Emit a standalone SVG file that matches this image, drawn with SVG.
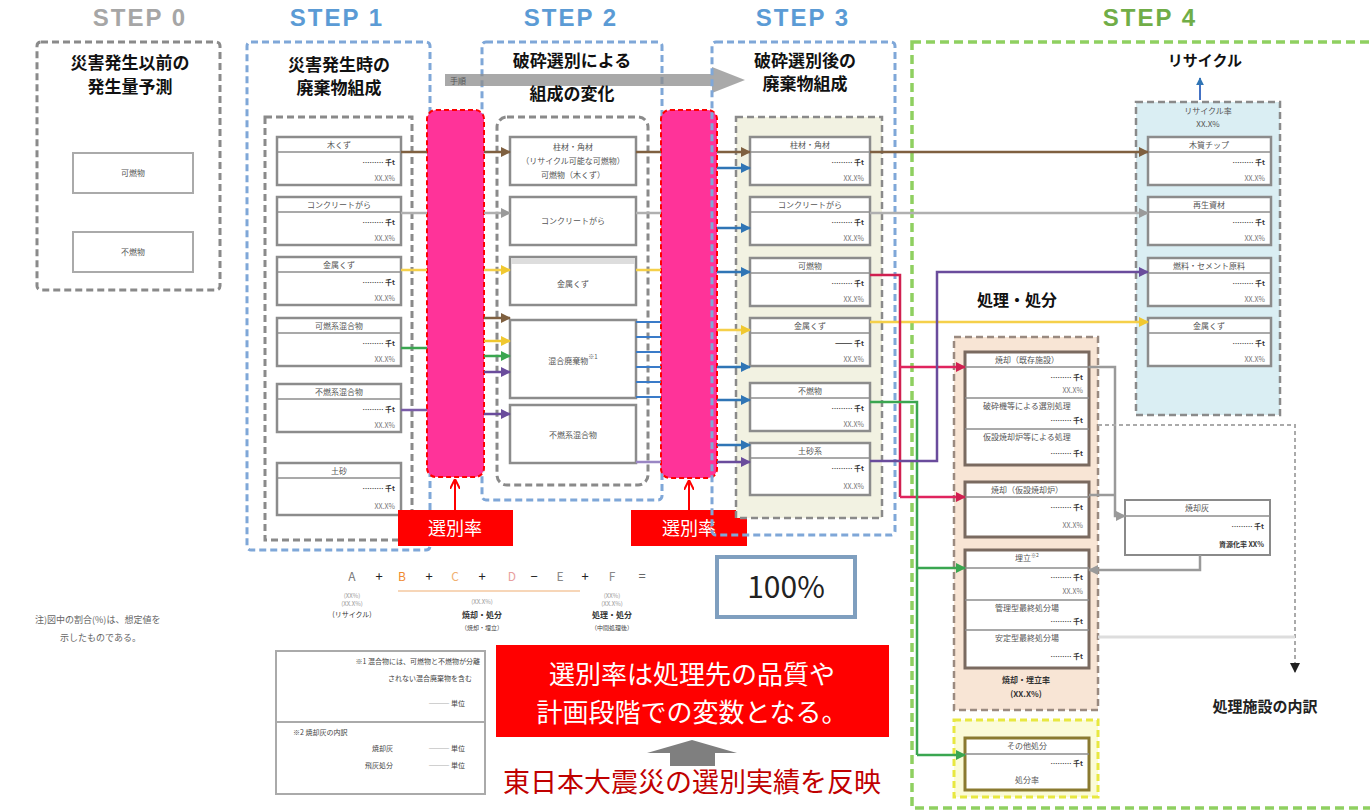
<svg xmlns="http://www.w3.org/2000/svg" width="1370" height="811" viewBox="0 0 1370 811">
<defs>
<style>
text{font-family:"Noto Sans CJK JP","Liberation Sans",sans-serif}
.step{font-family:"Liberation Sans",Arial,sans-serif;font-weight:bold;font-size:24px;letter-spacing:2px;text-anchor:middle}
.ttl{font-size:17px;font-weight:bold;fill:#111;text-anchor:middle}
.it{font-size:8px;fill:#555;text-anchor:middle}
.sm{font-size:7px;fill:#777;text-anchor:end}
.unit{font-size:7px;fill:#333;font-weight:bold;text-anchor:end}
.item{fill:#fff;stroke:#8c8c8c;stroke-width:2.5}
.sep{stroke:#8c8c8c;stroke-width:1.5}
.dg{fill:none;stroke:#8a8a8a;stroke-width:3;stroke-dasharray:7 4}
.db{fill:none;stroke:#7fa7d8;stroke-width:3;stroke-dasharray:7 4}
.c{fill:none;stroke-width:2.5}
.pink{fill:#ff3399;stroke:#ff0000;stroke-width:2;stroke-dasharray:5 3}
</style>
<marker id="aBr" viewBox="0 0 10 10" refX="9" refY="5" markerWidth="4" markerHeight="4" orient="auto"><path d="M0,0L10,5L0,10z" fill="#7f6040"/></marker>
<marker id="aGy" viewBox="0 0 10 10" refX="9" refY="5" markerWidth="4" markerHeight="4" orient="auto"><path d="M0,0L10,5L0,10z" fill="#9a9a9a"/></marker>
<marker id="aYe" viewBox="0 0 10 10" refX="9" refY="5" markerWidth="4" markerHeight="4" orient="auto"><path d="M0,0L10,5L0,10z" fill="#f0c830"/></marker>
<marker id="aGr" viewBox="0 0 10 10" refX="9" refY="5" markerWidth="4" markerHeight="4" orient="auto"><path d="M0,0L10,5L0,10z" fill="#3aa650"/></marker>
<marker id="aPu" viewBox="0 0 10 10" refX="9" refY="5" markerWidth="4" markerHeight="4" orient="auto"><path d="M0,0L10,5L0,10z" fill="#6a4c9c"/></marker>
<marker id="aBl" viewBox="0 0 10 10" refX="9" refY="5" markerWidth="4" markerHeight="4" orient="auto"><path d="M0,0L10,5L0,10z" fill="#2f75b5"/></marker>
<marker id="aRd" viewBox="0 0 10 10" refX="9" refY="5" markerWidth="4" markerHeight="4" orient="auto"><path d="M0,0L10,5L0,10z" fill="#d02050"/></marker>
<marker id="aRed" viewBox="0 0 10 10" refX="9" refY="5" markerWidth="5" markerHeight="5" orient="auto"><path d="M0,0L10,5L0,10" fill="none" stroke="#ff0000" stroke-width="2"/></marker>
<marker id="aBk" viewBox="0 0 10 10" refX="9" refY="5" markerWidth="5" markerHeight="5" orient="auto"><path d="M0,0L10,5L0,10z" fill="#222"/></marker>
</defs>
<rect width="1370" height="811" fill="#fff"/>

<!-- STEP labels -->
<text class="step" x="140" y="26" fill="#a6a6a6">STEP 0</text>
<text class="step" x="337" y="26" fill="#5b9bd5">STEP 1</text>
<text class="step" x="571" y="26" fill="#5b9bd5">STEP 2</text>
<text class="step" x="803" y="26" fill="#5b9bd5">STEP 3</text>
<text class="step" x="1150" y="26" fill="#70ad47">STEP 4</text>

<!-- STEP 0 -->
<g id="step0">
<rect class="dg" x="37" y="42" width="183" height="248" rx="4"/>
<text class="ttl" x="130" y="69">災害発生以前の</text>
<text class="ttl" x="130" y="93">発生量予測</text>
<rect x="73" y="153" width="120" height="40" fill="#fff" stroke="#aaa" stroke-width="2"/>
<text class="it" x="133" y="176" font-size="10">可燃物</text>
<rect x="73" y="232" width="120" height="40" fill="#fff" stroke="#aaa" stroke-width="2"/>
<text class="it" x="133" y="255" font-size="10">不燃物</text>
</g>

<!-- STEP 1 -->
<g id="step1">
<rect class="db" x="247" y="42" width="183" height="508" rx="4"/>
<text class="ttl" x="339" y="71">災害発生時の</text>
<text class="ttl" x="339" y="94">廃棄物組成</text>
<rect class="dg" x="265" y="117" width="147" height="423" stroke-width="2.5"/>
</g>
<g id="s1-1"><rect class="item" x="277" y="137" width="124" height="48"/><line class="sep" x1="277" y1="152" x2="401" y2="152"/><text class="it" x="339" y="148">木くず</text><text class="unit" x="395" y="165">……… 千t</text><text class="sm" x="395" y="181">XX.X%</text></g>
<g id="s1-2"><rect class="item" x="277" y="197" width="124" height="48"/><line class="sep" x1="277" y1="212" x2="401" y2="212"/><text class="it" x="339" y="208">コンクリートがら</text><text class="unit" x="395" y="225">……… 千t</text><text class="sm" x="395" y="241">XX.X%</text></g>
<g id="s1-3"><rect class="item" x="277" y="257" width="124" height="48"/><line class="sep" x1="277" y1="272" x2="401" y2="272"/><text class="it" x="339" y="268">金属くず</text><text class="unit" x="395" y="285">……… 千t</text><text class="sm" x="395" y="301">XX.X%</text></g>
<g id="s1-4"><rect class="item" x="277" y="318" width="124" height="48"/><line class="sep" x1="277" y1="333" x2="401" y2="333"/><text class="it" x="339" y="329">可燃系混合物</text><text class="unit" x="395" y="346">……… 千t</text><text class="sm" x="395" y="362">XX.X%</text></g>
<g id="s1-5"><rect class="item" x="277" y="384" width="124" height="48"/><line class="sep" x1="277" y1="399" x2="401" y2="399"/><text class="it" x="339" y="395">不燃系混合物</text><text class="unit" x="395" y="412">……… 千t</text><text class="sm" x="395" y="428">XX.X%</text></g>
<g id="s1-6"><rect class="item" x="277" y="463" width="124" height="52"/><line class="sep" x1="277" y1="478" x2="401" y2="478"/><text class="it" x="339" y="474">土砂</text><text class="unit" x="395" y="491">……… 千t</text><text class="sm" x="395" y="509">XX.X%</text></g>

<!-- STEP 2 -->
<g id="step2">
<rect class="db" x="482" y="42" width="180" height="458" rx="4"/>
<polygon points="445,74 712,74 712,67 745,80 712,93 712,86 445,86" fill="#8c8c8c" opacity="0.75"/>
<text x="458" y="84" font-size="8" fill="#555" text-anchor="middle">手順</text>
<text class="ttl" x="572" y="67">破砕選別による</text>
<text class="ttl" x="572" y="100">組成の変化</text>
<rect class="dg" x="497" y="117" width="151" height="368" rx="10" stroke-width="2.5"/>
</g>
<g id="s2-1"><rect class="item" x="510" y="137" width="126" height="48"/><text class="it" x="573" y="150">柱材・角材</text><text class="it" x="573" y="164">（リサイクル可能な可燃物）</text><text class="it" x="573" y="178">可燃物（木くず）</text></g>
<g id="s2-2"><rect class="item" x="510" y="197" width="126" height="48"/><text class="it" x="573" y="224">コンクリートがら</text></g>
<g id="s2-3"><rect class="item" x="510" y="257" width="126" height="48"/><rect x="511" y="258" width="124" height="6" fill="#ddd"/><text class="it" x="573" y="287" fill="#333">金属くず</text></g>
<g id="s2-4"><rect class="item" x="510" y="320" width="126" height="78"/><text class="it" x="573" y="364" fill="#333">混合廃棄物<tspan font-size="6" dy="-5">※1</tspan></text></g>
<g id="s2-5"><rect class="item" x="510" y="405" width="126" height="58"/><text class="it" x="573" y="438" fill="#333">不燃系混合物</text></g>

<!-- pink bars -->
<g id="bar1"><rect class="pink" x="427" y="110" width="57" height="367" rx="9"/></g>
<g id="bar2"><rect class="pink" x="661" y="110" width="56" height="368" rx="9"/></g>
<g id="rate1"><rect x="398" y="510" width="115" height="36" fill="#ff0000"/><text x="455" y="535" font-size="18" fill="#fff" text-anchor="middle">選別率</text></g>
<g id="rate2"><rect x="631" y="510" width="116" height="36" fill="#ff0000"/><text x="689" y="535" font-size="18" fill="#fff" text-anchor="middle">選別率</text></g>

<!-- STEP 3 -->
<g id="step3">
<rect class="db" x="712" y="42" width="183" height="493" rx="4"/>
<text class="ttl" x="805" y="67">破砕選別後の</text>
<text class="ttl" x="805" y="90">廃棄物組成</text>
<rect x="736" y="117" width="146" height="401" fill="#f2f2e2" stroke="#8a8a8a" stroke-width="2.5" stroke-dasharray="7 4"/>
</g>
<g id="s3-1"><rect class="item" x="750" y="137" width="120" height="48"/><line class="sep" x1="750" y1="152" x2="870" y2="152"/><text class="it" x="810" y="148">柱材・角材</text><text class="unit" x="864" y="165">……… 千t</text><text class="sm" x="864" y="181">XX.X%</text></g>
<g id="s3-2"><rect class="item" x="750" y="197" width="120" height="48"/><line class="sep" x1="750" y1="212" x2="870" y2="212"/><text class="it" x="810" y="208">コンクリートがら</text><text class="unit" x="864" y="225">……… 千t</text><text class="sm" x="864" y="241">XX.X%</text></g>
<g id="s3-3"><rect class="item" x="750" y="258" width="120" height="48"/><line class="sep" x1="750" y1="273" x2="870" y2="273"/><text class="it" x="810" y="269">可燃物</text><text class="unit" x="864" y="286">……… 千t</text><text class="sm" x="864" y="302">XX.X%</text></g>
<g id="s3-4"><rect class="item" x="750" y="318" width="120" height="48"/><line class="sep" x1="750" y1="333" x2="870" y2="333"/><text class="it" x="810" y="329">金属くず</text><text class="unit" x="864" y="346">——— 千t</text><text class="sm" x="864" y="362">XX.X%</text></g>
<g id="s3-5"><rect class="item" x="750" y="383" width="120" height="48"/><line class="sep" x1="750" y1="398" x2="870" y2="398"/><text class="it" x="810" y="394">不燃物</text><text class="unit" x="864" y="411">……… 千t</text><text class="sm" x="864" y="427">XX.X%</text></g>
<g id="s3-6"><rect class="item" x="750" y="443" width="120" height="52"/><line class="sep" x1="750" y1="458" x2="870" y2="458"/><text class="it" x="810" y="454">土砂系</text><text class="unit" x="864" y="471">……… 千t</text><text class="sm" x="864" y="489">XX.X%</text></g>

<g id="pct100"><rect x="717" y="557" width="138" height="60" fill="#fff" stroke="#7f9fbf" stroke-width="4"/><text x="786" y="598" font-size="30" fill="#222" text-anchor="middle" font-family="Liberation Sans,sans-serif">100%</text></g>

<!-- STEP 4 -->
<g id="step4">
<rect x="912" y="42" width="470" height="766" fill="none" stroke="#8fd060" stroke-width="3.5" stroke-dasharray="9 5"/>
<text x="1205" y="66" font-size="15" font-weight="bold" fill="#111" text-anchor="middle">リサイクル</text>
<text x="1017" y="306" font-size="16" font-weight="bold" fill="#111" text-anchor="middle">処理・処分</text>
<text x="1265" y="712" font-size="15" font-weight="bold" fill="#222" text-anchor="middle">処理施設の内訳</text>
</g>
<g id="recycle">
<line x1="1200" y1="100" x2="1200" y2="78" stroke="#4472c4" stroke-width="2" marker-end="url(#aBl)"/>
<rect x="1136" y="102" width="144" height="313" fill="#daeef3" stroke="#8a8a8a" stroke-width="2.5" stroke-dasharray="7 4"/>
<text class="it" x="1208" y="114" fill="#333" font-size="7">リサイクル率</text>
<text class="it" x="1208" y="127" fill="#333" font-size="7">XX.X%</text>
</g>
<g id="r-1"><rect class="item" x="1148" y="137" width="123" height="48"/><line class="sep" x1="1148" y1="152" x2="1271" y2="152"/><text class="it" x="1209" y="148">木質チップ</text><text class="unit" x="1265" y="165">……… 千t</text><text class="sm" x="1265" y="181">XX.X%</text></g>
<g id="r-2"><rect class="item" x="1148" y="197" width="123" height="48"/><line class="sep" x1="1148" y1="212" x2="1271" y2="212"/><text class="it" x="1209" y="208" fill="#333">再生資材</text><text class="unit" x="1265" y="225">……… 千t</text><text class="sm" x="1265" y="241">XX.X%</text></g>
<g id="r-3"><rect class="item" x="1148" y="258" width="123" height="48"/><line class="sep" x1="1148" y1="273" x2="1271" y2="273"/><text class="it" x="1209" y="269" fill="#333">燃料・セメント原料</text><text class="unit" x="1265" y="286">……… 千t</text><text class="sm" x="1265" y="302">XX.X%</text></g>
<g id="r-4"><rect class="item" x="1148" y="318" width="123" height="48"/><line class="sep" x1="1148" y1="333" x2="1271" y2="333"/><text class="it" x="1209" y="329" fill="#333">金属くず</text><text class="unit" x="1265" y="346">……… 千t</text><text class="sm" x="1265" y="362">XX.X%</text></g>

<g id="process">
<rect x="954" y="337" width="144" height="373" fill="#f8e5d5" stroke="#9a8a80" stroke-width="2.5" stroke-dasharray="7 4"/>
<text x="1026" y="683" font-size="8" font-weight="bold" fill="#333" text-anchor="middle">焼却・埋立率</text>
<text x="1026" y="697" font-size="8" font-weight="bold" fill="#333" text-anchor="middle">(XX.X%)</text>
</g>
<g id="p-A"><rect x="965" y="352" width="124" height="113" fill="#fff" stroke="#7a6a60" stroke-width="3"/>
<text class="it" x="1027" y="363" fill="#333">焼却（既存施設）</text><line class="sep" x1="965" y1="367" x2="1089" y2="367"/><text class="unit" x="1083" y="380">……… 千t</text><text class="sm" x="1083" y="393">XX.X%</text>
<line class="sep" x1="965" y1="398" x2="1089" y2="398"/><text class="it" x="1027" y="409" fill="#333">破砕機等による選別処理</text><text class="unit" x="1083" y="423">……… 千t</text>
<line class="sep" x1="965" y1="429" x2="1089" y2="429"/><text class="it" x="1027" y="440" fill="#333">仮設焼却炉等による処理</text><text class="unit" x="1083" y="456">……… 千t</text></g>
<g id="p-B"><rect x="965" y="482" width="124" height="55" fill="#fff" stroke="#7a6a60" stroke-width="3"/>
<text class="it" x="1027" y="493" fill="#333">焼却（仮設焼却炉）</text><line class="sep" x1="965" y1="497" x2="1089" y2="497"/><text class="unit" x="1083" y="510">……… 千t</text><text class="sm" x="1083" y="528">XX.X%</text></g>
<g id="p-C"><rect x="965" y="550" width="124" height="118" fill="#fff" stroke="#7a6a60" stroke-width="3"/>
<text class="it" x="1027" y="561" fill="#333">埋立<tspan font-size="5" dy="-4">※2</tspan></text><line class="sep" x1="965" y1="568" x2="1089" y2="568"/><text class="unit" x="1083" y="580">……… 千t</text><text class="sm" x="1083" y="594">XX.X%</text>
<line class="sep" x1="965" y1="600" x2="1089" y2="600"/><text class="it" x="1027" y="611" fill="#333">管理型最終処分場</text><text class="unit" x="1083" y="624">……… 千t</text>
<line class="sep" x1="965" y1="630" x2="1089" y2="630"/><text class="it" x="1027" y="641" fill="#333">安定型最終処分場</text><text class="unit" x="1083" y="659">……… 千t</text></g>
<g id="other">
<rect x="954" y="720" width="144" height="77" fill="#fbfbd8" stroke="#e8e840" stroke-width="3" stroke-dasharray="7 4"/>
<rect x="965" y="738" width="124" height="52" fill="#fff" stroke="#8a7a30" stroke-width="3"/>
<text class="it" x="1027" y="749" fill="#333">その他処分</text><line class="sep" x1="965" y1="754" x2="1089" y2="754"/><text class="unit" x="1083" y="766">……… 千t</text><text class="it" x="1027" y="783" fill="#333">処分率</text>
</g>
<g id="ash"><rect x="1125" y="500" width="145" height="55" fill="#fff" stroke="#8a8a8a" stroke-width="2"/>
<text class="it" x="1197" y="511" fill="#333">焼却灰</text><line class="sep" x1="1125" y1="516" x2="1270" y2="516"/><text class="unit" x="1264" y="529">……… 千t</text><text class="unit" x="1264" y="547">資源化率 XX%</text></g>

<!-- connectors -->
<g id="connectors">
<line class="c" stroke="#7f6040" x1="401" y1="152" x2="427" y2="152"/>
<line class="c" stroke="#7f6040" x1="484" y1="152" x2="510" y2="152" marker-end="url(#aBr)"/>
<line class="c" stroke="#7f6040" x1="636" y1="152" x2="661" y2="152"/>
<line class="c" stroke="#7f6040" x1="717" y1="152" x2="750" y2="152" marker-end="url(#aBr)"/>
<line class="c" stroke="#7f6040" x1="870" y1="152" x2="1148" y2="152" marker-end="url(#aBr)"/>
<line class="c" stroke="#b0b0b0" x1="401" y1="213" x2="427" y2="213"/>
<line class="c" stroke="#b0b0b0" x1="484" y1="213" x2="510" y2="213" marker-end="url(#aGy)"/>
<line class="c" stroke="#b0b0b0" x1="636" y1="213" x2="661" y2="213"/>
<line class="c" stroke="#b0b0b0" x1="870" y1="213" x2="1148" y2="213" marker-end="url(#aGy)"/>
<line class="c" stroke="#f5d04a" x1="401" y1="270" x2="427" y2="270"/>
<line class="c" stroke="#f5d04a" x1="484" y1="270" x2="510" y2="270" marker-end="url(#aYe)"/>
<line class="c" stroke="#f5d04a" x1="636" y1="270" x2="661" y2="270"/>
<line class="c" stroke="#f5d04a" x1="717" y1="330" x2="750" y2="330" marker-end="url(#aYe)"/>
<line class="c" stroke="#f5d04a" x1="870" y1="322" x2="1148" y2="322" marker-end="url(#aYe)"/>
<line class="c" stroke="#3aa650" x1="401" y1="348" x2="427" y2="348"/>
<line class="c" stroke="#7a5ca8" x1="401" y1="410" x2="427" y2="410"/>
<line class="c" stroke="#7f6040" x1="484" y1="318" x2="510" y2="318" marker-end="url(#aBr)"/>
<line class="c" stroke="#f0c830" x1="484" y1="341" x2="510" y2="341" marker-end="url(#aYe)"/>
<line class="c" stroke="#3aa650" x1="484" y1="356" x2="510" y2="356" marker-end="url(#aGr)"/>
<line class="c" stroke="#6a4c9c" x1="484" y1="372" x2="510" y2="372" marker-end="url(#aPu)"/>
<line class="c" stroke="#6a4c9c" x1="484" y1="414" x2="510" y2="414" marker-end="url(#aPu)"/>
<g stroke="#3a7bc8" stroke-width="2">
<line x1="636" y1="322" x2="661" y2="322"/><line x1="636" y1="337" x2="661" y2="337"/><line x1="636" y1="352" x2="661" y2="352"/>
<line x1="636" y1="367" x2="661" y2="367"/><line x1="636" y1="382" x2="661" y2="382"/><line x1="636" y1="397" x2="661" y2="397"/>
</g>
<line class="c" stroke="#9a86c4" x1="636" y1="462" x2="661" y2="462"/>
<line class="c" stroke="#2f75b5" x1="717" y1="168" x2="750" y2="168" marker-end="url(#aBl)"/>
<line class="c" stroke="#2f75b5" x1="717" y1="228" x2="750" y2="228" marker-end="url(#aBl)"/>
<line class="c" stroke="#2f75b5" x1="717" y1="272" x2="750" y2="272" marker-end="url(#aBl)"/>
<line class="c" stroke="#2f75b5" x1="717" y1="367" x2="750" y2="367" marker-end="url(#aBl)"/>
<line class="c" stroke="#2f75b5" x1="717" y1="400" x2="750" y2="400" marker-end="url(#aBl)"/>
<line class="c" stroke="#2f75b5" x1="717" y1="445" x2="750" y2="445" marker-end="url(#aBl)"/>
<line class="c" stroke="#6a4c9c" x1="717" y1="462" x2="750" y2="462" marker-end="url(#aPu)"/>
<polyline class="c" stroke="#d02050" points="870,275 900,275 900,497"/>
<line class="c" stroke="#e0245e" x1="900" y1="367" x2="965" y2="367" marker-end="url(#aRd)"/>
<line class="c" stroke="#e0245e" x1="900" y1="497" x2="965" y2="497" marker-end="url(#aRd)"/>
<polyline class="c" stroke="#3aa650" points="870,402 917,402 917,755"/>
<line class="c" stroke="#3aa650" x1="917" y1="568" x2="965" y2="568" marker-end="url(#aGr)"/>
<line class="c" stroke="#3aa650" x1="917" y1="755" x2="965" y2="755" marker-end="url(#aGr)"/>
<polyline class="c" stroke="#6a4c9c" points="870,461 937,461 937,272 1148,272" marker-end="url(#aPu)"/>
<polyline class="c" stroke="#9a9a9a" points="1089,367 1115,367 1115,516 1125,516" marker-end="url(#aGy)"/>
<line class="c" stroke="#9a9a9a" x1="1089" y1="495" x2="1115" y2="495"/>
<polyline class="c" stroke="#9a9a9a" points="1200,555 1200,570 1089,570" marker-end="url(#aGy)"/>
<polyline fill="none" stroke="#aaa" stroke-width="2" stroke-dasharray="4 3" points="1098,425 1295,425 1295,672" marker-end="url(#aBk)"/>
<line stroke="#ddd" stroke-width="3" x1="1098" y1="637" x2="1295" y2="637"/>
<line stroke="#ff0000" stroke-width="2" x1="455" y1="510" x2="455" y2="480" marker-end="url(#aRed)"/>
<line stroke="#ff0000" stroke-width="2" x1="689" y1="510" x2="689" y2="481" marker-end="url(#aRed)"/>
</g>

<!-- formula -->
<g id="formula" font-family="Liberation Sans,sans-serif">
<line x1="398" y1="591" x2="580" y2="591" stroke="#f4c9a0" stroke-width="1.5"/>
<text x="352" y="581" font-size="12" fill="#777" text-anchor="middle">A</text>
<text x="379" y="581" font-size="13" fill="#222" text-anchor="middle">+</text>
<text x="402" y="581" font-size="12" fill="#f08a30" text-anchor="middle">B</text>
<text x="429" y="581" font-size="13" fill="#222" text-anchor="middle">+</text>
<text x="455" y="581" font-size="12" fill="#f0b070" text-anchor="middle">C</text>
<text x="482" y="581" font-size="13" fill="#222" text-anchor="middle">+</text>
<text x="512" y="581" font-size="12" fill="#e8a0a0" text-anchor="middle">D</text>
<text x="534" y="581" font-size="13" fill="#222" text-anchor="middle">−</text>
<text x="560" y="581" font-size="12" fill="#888" text-anchor="middle">E</text>
<text x="585" y="581" font-size="13" fill="#222" text-anchor="middle">+</text>
<text x="612" y="581" font-size="12" fill="#888" text-anchor="middle">F</text>
<text x="642" y="581" font-size="13" fill="#444" text-anchor="middle">=</text>
<text x="352" y="598" font-size="6" fill="#999" text-anchor="middle">(XX%)</text>
<text x="352" y="606" font-size="6" fill="#999" text-anchor="middle">(XX.X%)</text>
<text x="482" y="604" font-size="6" fill="#999" text-anchor="middle">(XX.X%)</text>
<text x="612" y="598" font-size="6" fill="#999" text-anchor="middle">(XX%)</text>
<text x="612" y="606" font-size="6" fill="#999" text-anchor="middle">(XX.X%)</text>
<text x="352" y="617" font-size="7" fill="#333" text-anchor="middle" font-family="Noto Sans CJK JP,sans-serif">(リサイクル)</text>
<text x="482" y="618" font-size="8" font-weight="bold" fill="#333" text-anchor="middle" font-family="Noto Sans CJK JP,sans-serif">焼却・処分</text>
<text x="482" y="630" font-size="6" fill="#444" text-anchor="middle" font-family="Noto Sans CJK JP,sans-serif">（焼却・埋立）</text>
<text x="612" y="618" font-size="8" font-weight="bold" fill="#333" text-anchor="middle" font-family="Noto Sans CJK JP,sans-serif">処理・処分</text>
<text x="612" y="630" font-size="6" fill="#444" text-anchor="middle" font-family="Noto Sans CJK JP,sans-serif">（中間処理後）</text>
</g>

<!-- note -->
<g id="note">
<text x="35" y="623" font-size="9" fill="#666">注)図中の割合(%)は、想定値を</text>
<text x="60" y="641" font-size="9" fill="#666">示したものである。</text>
</g>
<g id="legend">
<rect x="276" y="651" width="209" height="143" fill="#fff" stroke="#aaa" stroke-width="2"/>
<line x1="276" y1="722" x2="485" y2="722" stroke="#aaa" stroke-width="2"/>
<text x="480" y="664" font-size="7" fill="#444" text-anchor="end">※1 混合物には、可燃物と不燃物が分離</text>
<text x="472" y="681" font-size="7" fill="#444" text-anchor="end">されない混合廃棄物を含む</text>
<text x="465" y="706" font-size="7" fill="#444" text-anchor="end">――― 単位</text>
<text x="293" y="735" font-size="7" fill="#444">※2 焼却灰の内訳</text>
<text x="393" y="751" font-size="7" fill="#444" text-anchor="end">焼却灰</text>
<text x="465" y="751" font-size="7" fill="#444" text-anchor="end">――― 単位</text>
<text x="393" y="768" font-size="7" fill="#444" text-anchor="end">飛灰処分</text>
<text x="465" y="768" font-size="7" fill="#444" text-anchor="end">――― 単位</text>
</g>

<!-- callout -->
<g id="callout">
<rect x="496" y="645" width="393" height="92" fill="#ff0000"/>
<text x="692" y="684" font-size="26" fill="#fff" text-anchor="middle">選別率は処理先の品質や</text>
<text x="692" y="722" font-size="26" fill="#fff" text-anchor="middle">計画段階での変数となる。</text>
<polygon points="647,753 692,740 737,753 715,753 715,766 670,766 670,753" fill="#7f7f7f"/>
<text x="692" y="792" font-size="27" fill="#c00000" text-anchor="middle">東日本大震災の選別実績を反映</text>
</g>
</svg>
